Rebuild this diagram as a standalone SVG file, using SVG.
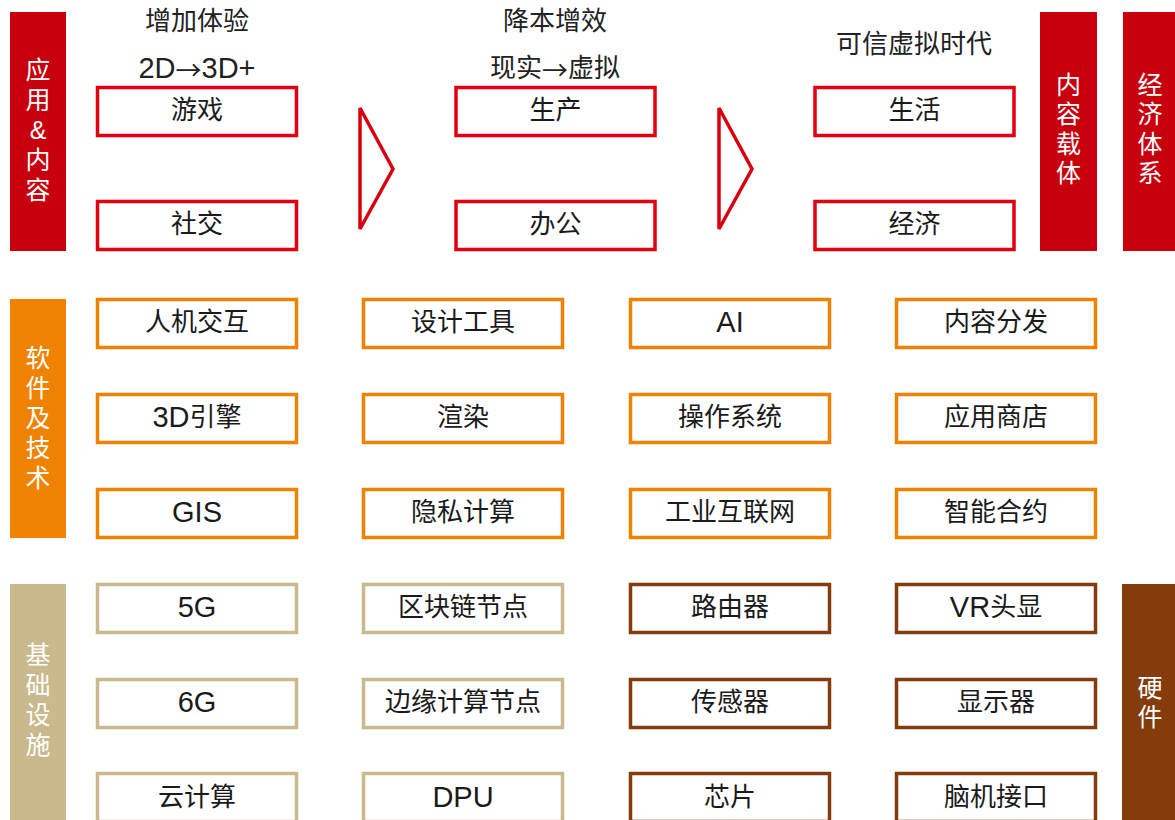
<svg xmlns="http://www.w3.org/2000/svg" width="1175" height="820" viewBox="0 0 1175 820">
<style>
text{font-family:"Liberation Sans","Noto Sans CJK SC",sans-serif;text-anchor:middle;dominant-baseline:central}
.t{font-size:26px;fill:#1a1a1a}
.h{font-size:26px;fill:#222}
.s{font-size:25px;fill:#ffffff}
.ar{font-family:"Noto Sans CJK SC",sans-serif}
.L{font-size:29px}
.box{fill:#ffffff;stroke-width:3.5}
.r{stroke:#E0000F}
.o{stroke:#EF8200}
.k{stroke:#C9B98D}
.b{stroke:#843C0C}
.tri{fill:#ffffff;stroke:#D8000F;stroke-width:3.5;stroke-linejoin:miter}
</style>
<rect width="1175" height="820" fill="#ffffff"/>

<!-- side bars -->
<g id="bar-app"><rect x="10" y="12" width="56" height="239" fill="#C8000E"/>
<text class="s" x="38" y="70">应</text><text class="s" x="38" y="100">用</text><text class="s" x="38" y="130">&amp;</text><text class="s" x="38" y="160">内</text><text class="s" x="38" y="190">容</text></g>
<g id="bar-carrier"><rect x="1040" y="12" width="57" height="239" fill="#C8000E"/>
<text class="s" x="1068.5" y="85">内</text><text class="s" x="1068.5" y="114">容</text><text class="s" x="1068.5" y="144">载</text><text class="s" x="1068.5" y="173">体</text></g>
<g id="bar-economy"><rect x="1123" y="12" width="52" height="239" fill="#C8000E"/>
<text class="s" x="1150" y="85">经</text><text class="s" x="1150" y="114">济</text><text class="s" x="1150" y="144">体</text><text class="s" x="1150" y="173">系</text></g>
<g id="bar-software"><rect x="10" y="299" width="56" height="239" fill="#EF8200"/>
<text class="s" x="38" y="358">软</text><text class="s" x="38" y="388">件</text><text class="s" x="38" y="418">及</text><text class="s" x="38" y="448">技</text><text class="s" x="38" y="478">术</text></g>
<g id="bar-infra"><rect x="10" y="584" width="56" height="236" fill="#C9B98D"/>
<text class="s" x="38" y="655">基</text><text class="s" x="38" y="685">础</text><text class="s" x="38" y="715">设</text><text class="s" x="38" y="745">施</text></g>
<g id="bar-hardware"><rect x="1122" y="584" width="53" height="236" fill="#843C0C"/>
<text class="s" x="1150" y="688">硬</text><text class="s" x="1150" y="717">件</text></g>

<!-- header labels -->
<g id="headers">
<text class="h" x="197" y="21">增加体验</text>
<text class="h" x="197" y="68"><tspan class="L">2D</tspan><tspan class="ar">→</tspan><tspan class="L">3D+</tspan></text>
<text class="h" x="555" y="21">降本增效</text>
<text class="h" x="555" y="68">现实<tspan class="ar">→</tspan>虚拟</text>
<text class="h" x="914" y="44">可信虚拟时代</text>
</g>

<!-- connectors (chevrons) -->
<g id="connectors">
<polygon class="tri" points="360,108 393,169 360,229"/>
<polygon class="tri" points="719,108 752,169 719,229"/>
</g>

<!-- application row -->
<g id="n-youxi"><rect class="box r" x="97.5" y="87.5" width="199" height="48"/><text class="t" x="197" y="110">游戏</text></g>
<g id="n-shejiao"><rect class="box r" x="97.5" y="201.5" width="199" height="48"/><text class="t" x="197" y="224">社交</text></g>
<g id="n-shengchan"><rect class="box r" x="456" y="87.5" width="199" height="48"/><text class="t" x="555.5" y="110">生产</text></g>
<g id="n-bangong"><rect class="box r" x="456" y="201.5" width="199" height="48"/><text class="t" x="555.5" y="224">办公</text></g>
<g id="n-shenghuo"><rect class="box r" x="815" y="87.5" width="199" height="48"/><text class="t" x="914.5" y="110">生活</text></g>
<g id="n-jingji"><rect class="box r" x="815" y="201.5" width="199" height="48"/><text class="t" x="914.5" y="224">经济</text></g>

<!-- software row -->
<g id="n-renji"><rect class="box o" x="97.5" y="299.5" width="199" height="48"/><text class="t" x="197" y="322">人机交互</text></g>
<g id="n-3d"><rect class="box o" x="97.5" y="394.5" width="199" height="48"/><text class="t" x="197" y="417"><tspan class="L">3D</tspan>引擎</text></g>
<g id="n-gis"><rect class="box o" x="97.5" y="489.5" width="199" height="48"/><text class="t L" x="197" y="512">GIS</text></g>
<g id="n-sheji"><rect class="box o" x="363.5" y="299.5" width="199" height="48"/><text class="t" x="463" y="322">设计工具</text></g>
<g id="n-xuanran"><rect class="box o" x="363.5" y="394.5" width="199" height="48"/><text class="t" x="463" y="417">渲染</text></g>
<g id="n-yinsi"><rect class="box o" x="363.5" y="489.5" width="199" height="48"/><text class="t" x="463" y="512">隐私计算</text></g>
<g id="n-ai"><rect class="box o" x="630.5" y="299.5" width="199" height="48"/><text class="t L" x="730" y="322">AI</text></g>
<g id="n-caozuo"><rect class="box o" x="630.5" y="394.5" width="199" height="48"/><text class="t" x="730" y="417">操作系统</text></g>
<g id="n-gongye"><rect class="box o" x="630.5" y="489.5" width="199" height="48"/><text class="t" x="730" y="512">工业互联网</text></g>
<g id="n-neirong"><rect class="box o" x="896.5" y="299.5" width="199" height="48"/><text class="t" x="996" y="322">内容分发</text></g>
<g id="n-yingyong"><rect class="box o" x="896.5" y="394.5" width="199" height="48"/><text class="t" x="996" y="417">应用商店</text></g>
<g id="n-zhineng"><rect class="box o" x="896.5" y="489.5" width="199" height="48"/><text class="t" x="996" y="512">智能合约</text></g>

<!-- infrastructure / hardware rows -->
<g id="n-5g"><rect class="box k" x="97.5" y="584.5" width="199" height="48"/><text class="t L" x="197" y="607">5G</text></g>
<g id="n-6g"><rect class="box k" x="97.5" y="679.5" width="199" height="48"/><text class="t L" x="197" y="702">6G</text></g>
<g id="n-yun"><rect class="box k" x="97.5" y="773.5" width="199" height="48"/><text class="t" x="197" y="797">云计算</text></g>
<g id="n-qukuai"><rect class="box k" x="363.5" y="584.5" width="199" height="48"/><text class="t" x="463" y="607">区块链节点</text></g>
<g id="n-bianyuan"><rect class="box k" x="363.5" y="679.5" width="199" height="48"/><text class="t" x="463" y="702">边缘计算节点</text></g>
<g id="n-dpu"><rect class="box k" x="363.5" y="773.5" width="199" height="48"/><text class="t L" x="463" y="797">DPU</text></g>
<g id="n-luyou"><rect class="box b" x="630.5" y="584.5" width="199" height="48"/><text class="t" x="730" y="607">路由器</text></g>
<g id="n-chuangan"><rect class="box b" x="630.5" y="679.5" width="199" height="48"/><text class="t" x="730" y="702">传感器</text></g>
<g id="n-xinpian"><rect class="box b" x="630.5" y="773.5" width="199" height="48"/><text class="t" x="730" y="797">芯片</text></g>
<g id="n-vr"><rect class="box b" x="896.5" y="584.5" width="199" height="48"/><text class="t" x="996" y="607"><tspan class="L">VR</tspan>头显</text></g>
<g id="n-xianshi"><rect class="box b" x="896.5" y="679.5" width="199" height="48"/><text class="t" x="996" y="702">显示器</text></g>
<g id="n-naoji"><rect class="box b" x="896.5" y="773.5" width="199" height="48"/><text class="t" x="996" y="797">脑机接口</text></g>
</svg>
